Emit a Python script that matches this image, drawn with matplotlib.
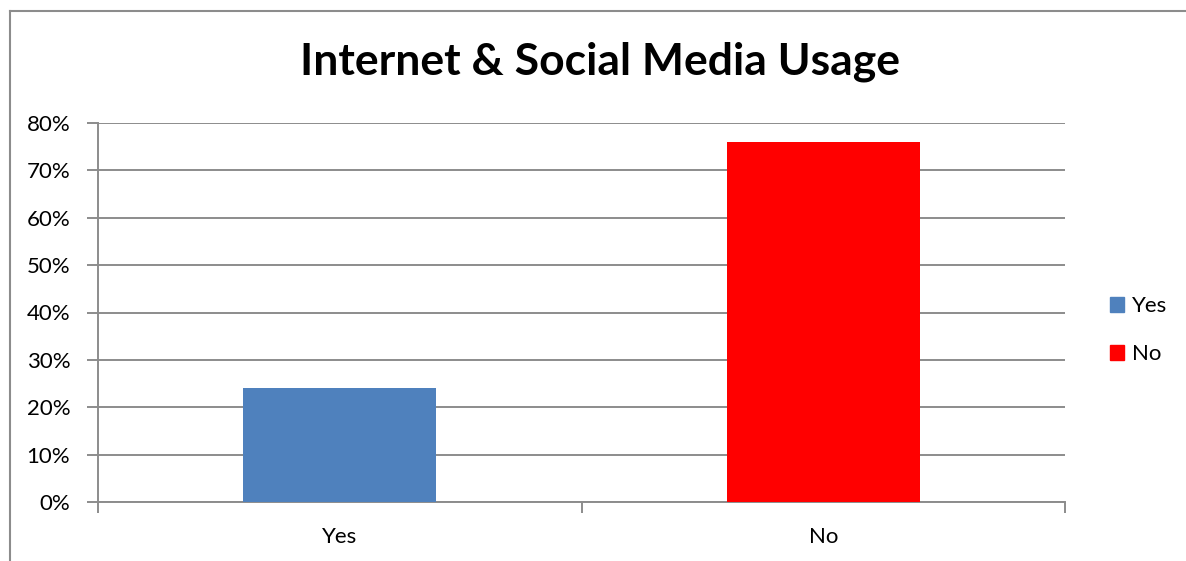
import matplotlib.pyplot as plt
from matplotlib.patches import Patch
from matplotlib.lines import Line2D
import numpy as np

categories = ["Yes", "No"]
values = [24, 76]
colors = ["#4F81BD", "#FF0000"]
yticks = [0, 10, 20, 30, 40, 50, 60, 70, 80]

plt.rcParams['font.family'] = ['Lato', 'DejaVu Sans']

W, H = 1186, 561
fig = plt.figure(figsize=(W/100, H/100), dpi=100)

# chart-area border (cropped on right/bottom)
fig.add_artist(Line2D([10/W, 10/W], [0, 1-11/H], color="#8c8c8c", lw=1.5, transform=fig.transFigure))
fig.add_artist(Line2D([10/W, 1], [1-11/H, 1-11/H], color="#8c8c8c", lw=1.5, transform=fig.transFigure))

ax = fig.add_axes([98/W, 59/H, (1065-98)/W, 379/H])
x = np.arange(len(categories))
ax.bar(x, values, width=0.4, color=colors, zorder=3)

ax.set_xlim(-0.5, 1.5)
ax.set_ylim(0, 80)
ax.set_yticks(yticks)
ax.set_yticklabels([f"{v}%" for v in yticks], fontsize=16)
ax.yaxis.grid(True, color="#8c8c8c", lw=1.4, zorder=0)
ax.set_axisbelow(True)

ax.set_xticks([-0.5, 0.5, 1.5])
ax.set_xticklabels([])
ax.set_xticks(x, minor=True)
ax.set_xticklabels(categories, minor=True, fontsize=16)
ax.tick_params(axis='x', which='minor', length=0, pad=18)
ax.tick_params(axis='x', which='major', length=8, color="#8c8c8c", width=1.4)
ax.tick_params(axis='y', length=8, color="#8c8c8c", width=1.4, pad=12)

for s in ["top", "right"]:
    ax.spines[s].set_visible(False)
for s in ["left", "bottom"]:
    ax.spines[s].set_color("#8c8c8c")
    ax.spines[s].set_linewidth(1.4)

fig.text(600/W, 1-62/H, "Internet & Social Media Usage", ha="center", va="center",
         fontsize=32, fontweight="bold")

handles = [Patch(color=c) for c in colors]
fig.legend(handles, categories, loc="center left", bbox_to_anchor=(1090/W, 1-330/H),
           frameon=False, fontsize=16, handlelength=0.65, handleheight=0.65,
           handletextpad=0.35, labelspacing=1.25)

fig.savefig("out.png", dpi=100)
